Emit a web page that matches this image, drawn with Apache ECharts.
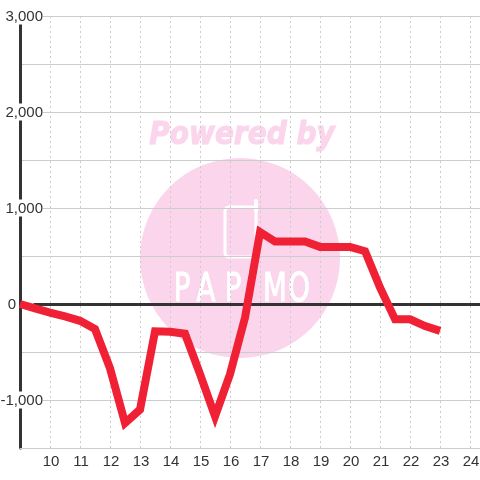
<!DOCTYPE html>
<html>
<head>
<meta charset="utf-8">
<style>
html, body { margin: 0; padding: 0; background: #fff; }
#chart { width: 480px; height: 480px; }
</style>
<script src="https://cdn.jsdelivr.net/npm/echarts@6/dist/echarts.min.js"></script>
</head>
<body>
<div id="chart"></div>
<script>
const hours = [9, 9.5, 10, 10.5, 11, 11.5, 12, 12.5, 13, 13.5, 14, 14.5, 15, 15.5, 16, 16.5, 17, 17.5, 18, 18.5, 19, 19.5, 20, 20.5, 21, 21.5, 22, 22.5, 23];
const values = [0, -45, -90, -130, -175, -260, -670, -1240, -1100, -285, -290, -310, -730, -1170, -730, -140, 750, 650, 650, 650, 595, 595, 595, 550, 170, -160, -160, -230, -280];

const xMin = 9;
const xMax = 24.33;
const yMin = -1500;
const yMax = 3000;

const chart = echarts.init(document.getElementById("chart"));

const labelFont = { color: "#333", fontSize: 15, fontFamily: "Liberation Sans" };
const wmColor = "#fbd5ec";

// watermark logo letters, drawn tall and thin
const logoLetters = [["P", 182], ["A", 206], ["P", 233], ["I", 250], ["M", 275], ["O", 299]];

function yLabel(v) {
    if (v === 0) return "{zero|0}";
    if (v % 1000 !== 0) return "";
    return "{num|" + v.toLocaleString("en-US") + "}";
}

const logoText = logoLetters.map(([ch, x]) => ({
    type: "text",
    z: -9,
    silent: true,
    x: x,
    y: 291,
    scaleX: 1.15,
    scaleY: 1.6,
    style: { x: 0, y: 0, text: ch, align: "center", verticalAlign: "middle", fill: "#fff", stroke: "#fff", lineWidth: 0.6, fontSize: 24, fontFamily: "DejaVu Sans" }
}));

chart.setOption({
    animation: false,
    backgroundColor: "#fff",
    grid: { left: 20, right: 0, top: 16, bottom: 32, outerBoundsMode: "none" },
    graphic: [
        { type: "circle", z: -10, silent: true, shape: { cx: 240, cy: 258, r: 100 }, style: { fill: wmColor } },
        { type: "text", z: -10, silent: true, x: 242, y: 136, scaleY: 1.12, style: { x: 0, y: 0, text: "Powered by", align: "center", verticalAlign: "middle", fill: wmColor, stroke: wmColor, lineWidth: 1, fontStyle: "italic", fontWeight: "bold", fontSize: 28, fontFamily: "DejaVu Sans" } },
        { type: "rect", z: -9, silent: true, shape: { x: 225, y: 207, width: 31, height: 50, r: 4 }, style: { fill: "none", stroke: "#fff", lineWidth: 3 } },
        { type: "line", z: -9, silent: true, shape: { x1: 256, y1: 201, x2: 256, y2: 210 }, style: { stroke: "#fff", lineWidth: 4, lineCap: "round" } },
        ...logoText
    ],
    xAxis: {
        type: "value",
        min: xMin,
        max: xMax,
        interval: 1,
        axisLine: { show: true, onZero: false, lineStyle: { color: "#ccc", width: 1 } },
        axisTick: { show: false },
        axisLabel: {
            ...labelFont,
            margin: 6,
            padding: [0, 0, 0, 2],
            showMinLabel: false,
            showMaxLabel: false,
            formatter: v => Number.isInteger(v) && v > xMin ? String(v) : ""
        },
        splitLine: { show: true, lineStyle: { color: "#ccc", type: [2, 3], width: 1 } }
    },
    yAxis: {
        type: "value",
        min: yMin,
        max: yMax,
        interval: 500,
        axisLine: { show: true, onZero: false, lineStyle: { color: "#333", width: 3 } },
        axisTick: { show: false },
        axisLabel: {
            ...labelFont,
            inside: true,
            align: "right",
            margin: 23,
            showMinLabel: false,
            formatter: yLabel,
            rich: {
                num: { ...labelFont, backgroundColor: "#fff", padding: [2, 0, 0, 0] },
                zero: { ...labelFont, padding: [2, 27, 0, 0] }
            }
        },
        splitLine: { show: true, lineStyle: { color: "#ccc", width: 1 } }
    },
    series: [
        {
            type: "line",
            data: hours.map((h, i) => [h, values[i]]),
            showSymbol: false,
            lineStyle: { color: "#f02035", width: 8, join: "miter" },
            markLine: {
                silent: true,
                symbol: "none",
                label: { show: false },
                lineStyle: { color: "#333", type: "solid", width: 3 },
                data: [[{ coord: [9.45, 0] }, { coord: [xMax, 0] }]]
            },
            z: 5
        }
    ]
});
</script>
</body>
</html>
